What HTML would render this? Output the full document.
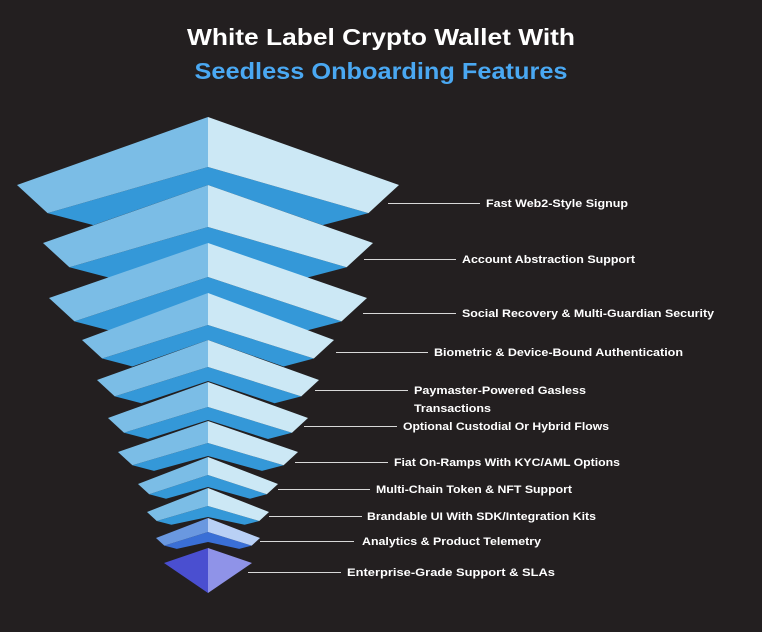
<!DOCTYPE html>
<html><head><meta charset="utf-8"><style>
html,body{margin:0;padding:0;background:#231f20;}
svg{display:block;}
text{font-family:"Liberation Sans",sans-serif;font-weight:bold;}
</style></head><body>
<svg id="s" width="762" height="632" viewBox="0 0 762 632" xmlns="http://www.w3.org/2000/svg">
<rect width="762" height="632" fill="#231f20"/>
<text x="381" y="45" text-anchor="middle" font-size="23" fill="#ffffff" textLength="388" lengthAdjust="spacingAndGlyphs">White Label Crypto Wallet With</text>
<text x="381" y="79" text-anchor="middle" font-size="23" fill="#4aa8f2" textLength="373" lengthAdjust="spacingAndGlyphs">Seedless Onboarding Features</text>
<g id="layers"></g>
<polygon points="208,548 164,563 208,593" fill="#4a4fd0"/>
<polygon points="208,548 252,563 208,593" fill="#8f93e8"/>
<g id="labels" stroke="#d8d8d8" stroke-width="1"></g>
</svg>
<script>
var ns="http://www.w3.org/2000/svg",c=208;
var L=[[117,191,68,50,18],[185,165,58,42,17],[243,159,55,34,17],[293,126,47,32,15],[340,111,40,27,14],[382,100,36,25,13],[421,90,31,22,13],[457,70,27,18,12],[488,61,24,18,11],[518,52,20,14,10]];
var g=document.getElementById('layers');
function poly(p,f){var e=document.createElementNS(ns,'polygon');e.setAttribute('points',p.map(function(q){return q.join(',')}).join(' '));e.setAttribute('fill',f);g.appendChild(e);}
L.forEach(function(l,i){var A=l[0],W=l[1],d=l[2],lh=l[3],b=l[4];var ix=0.16*W,iy=0.147*W;
var last=i==9;var cl=last?'#6a98e0':'#7bbde6',cr=last?'#b9d0f5':'#cce8f5',cd=last?'#3a6fd6':'#3498d8';
var p1=[c-W+ix,A+d+iy],p2=[c-W+ix+0.24*W,A+d+iy+0.063*W];
var q1=[c+W-ix,A+d+iy],q2=[c+W-ix-0.24*W,A+d+iy+0.063*W];
poly([[c,A+lh],p1,p2,[c,A+lh+b],q2,q1],cd);
poly([[c,A],[c-W,A+d],p1,[c,A+lh]],cl);
poly([[c,A],[c+W,A+d],q1,[c,A+lh]],cr);
});
var T=[[388,480,203,"Fast Web2-Style Signup",486,142],[364,456,259,"Account Abstraction Support",462,173],[363,456,313,"Social Recovery & Multi-Guardian Security",462,252],[336,428,352,"Biometric & Device-Bound Authentication",434,249],[315,408,390,"Paymaster-Powered Gasless",414,172],[0,0,408,"Transactions",414,77],[304,397,426,"Optional Custodial Or Hybrid Flows",403,206],[295,388,462,"Fiat On-Ramps With KYC/AML Options",394,226],[278,370,489,"Multi-Chain Token & NFT Support",376,196],[269,362,516,"Brandable UI With SDK/Integration Kits",367,229],[260,354,541,"Analytics & Product Telemetry",362,179],[248,341,572,"Enterprise-Grade Support & SLAs",347,208]];
var lg=document.getElementById('labels');
T.forEach(function(t){if(t[1]){var ln=document.createElementNS(ns,'line');ln.setAttribute('x1',t[0]);ln.setAttribute('x2',t[1]);ln.setAttribute('y1',t[2]+.5);ln.setAttribute('y2',t[2]+.5);lg.appendChild(ln);}
var tx=document.createElementNS(ns,'text');tx.setAttribute('x',t[4]);tx.setAttribute('y',t[2]+4);tx.setAttribute('font-size','11');tx.setAttribute('fill','#ffffff');tx.setAttribute('stroke','none');tx.setAttribute('textLength',t[5]);tx.setAttribute('lengthAdjust','spacingAndGlyphs');tx.textContent=t[3];lg.appendChild(tx);});
</script>
</body></html>
